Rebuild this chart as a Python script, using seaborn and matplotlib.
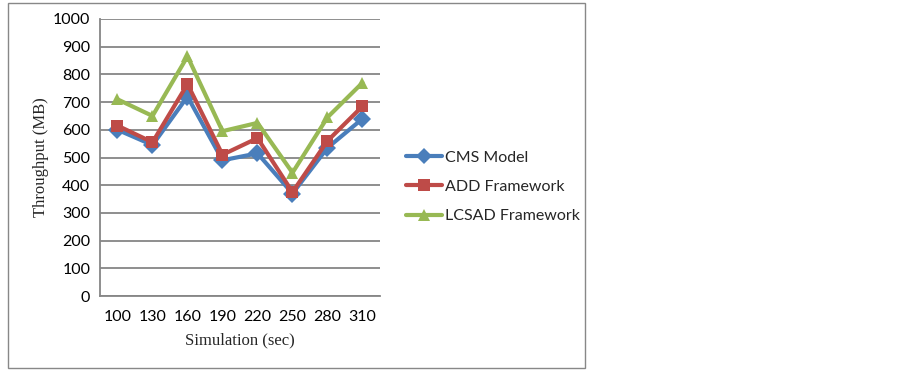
import pandas as pd
import seaborn as sns
import matplotlib.pyplot as plt
from matplotlib.patches import Rectangle
from matplotlib.ticker import FixedLocator

sim_time = ['100', '130', '160', '190', '220', '250', '280', '310']
cms_model = [600, 545, 720, 490, 515, 370, 535, 640]
add_framework = [615, 555, 765, 510, 570, 375, 560, 685]
lcsad_framework = [710, 650, 865, 595, 625, 445, 645, 770]

series_names = ['CMS Model', 'ADD Framework', 'LCSAD Framework']
colors = ['#4A7EBB', '#BE4B48', '#98B954']
markers = ['D', 's', '^']

rows = []
for name, vals in zip(series_names, [cms_model, add_framework, lcsad_framework]):
    for i, v in enumerate(vals):
        rows.append({'pos': i, 'label': sim_time[i], 'series': name, 'value': v})
df = pd.DataFrame(rows)

sns.set_style('white')
plt.rcParams['font.family'] = ['Lato', 'DejaVu Sans']

fig = plt.figure(figsize=(9.03, 3.72), dpi=100)
ax = fig.add_axes([100 / 903, 1 - 296 / 372, 280 / 903, 277 / 372])

sns.lineplot(
    data=df, x='pos', y='value', hue='series', style='series',
    hue_order=series_names, style_order=series_names,
    palette=dict(zip(series_names, colors)),
    markers=dict(zip(series_names, markers)),
    dashes=False, linewidth=3, markersize=9, markeredgewidth=0,
    ax=ax, legend=False
)

ax.set_xlim(-0.5, 7.5)
ax.set_ylim(0, 1000)
ax.set_yticks(range(0, 1001, 100))
ax.set_xticks(range(len(sim_time)))
ax.set_xticklabels(sim_time)
ax.xaxis.set_minor_locator(FixedLocator([i - 0.5 for i in range(len(sim_time) + 1)]))
ax.tick_params(axis='x', which='major', length=0, pad=10, labelsize=11.5, labelcolor='black')
ax.tick_params(axis='x', which='minor', length=5, width=1.2, color='#868686', direction='out')
ax.tick_params(axis='y', length=0, pad=7, labelsize=11.5, labelcolor='black')
ax.grid(axis='y', color='#868686', linewidth=1.3)
ax.set_axisbelow(True)
for s in ['top', 'right']:
    ax.spines[s].set_visible(False)
for s in ['left', 'bottom']:
    ax.spines[s].set_color('#868686')
    ax.spines[s].set_linewidth(1.3)

ax.set_xlabel('Simulation (sec)', family='Liberation Serif', fontsize=12, labelpad=6)
ax.set_ylabel('Throughput (MB)', family='Liberation Serif', fontsize=12, labelpad=3)

handles = [plt.Line2D([], [], color=c, marker=m, linewidth=3, markersize=8, markeredgewidth=0)
           for c, m in zip(colors, markers)]
fig.legend(handles, series_names, loc='center left', bbox_to_anchor=(392 / 903, 1 - 187 / 372),
           frameon=False, fontsize=11.5, handlelength=2.2, handletextpad=0.2, labelspacing=0.95)

fig.patches.append(Rectangle((8 / 903, 1 - 368 / 372), 577 / 903, 365 / 372,
                             transform=fig.transFigure, fill=False, edgecolor='#888888', linewidth=1))

plt.savefig('out.png', dpi=100)
plt.close()
